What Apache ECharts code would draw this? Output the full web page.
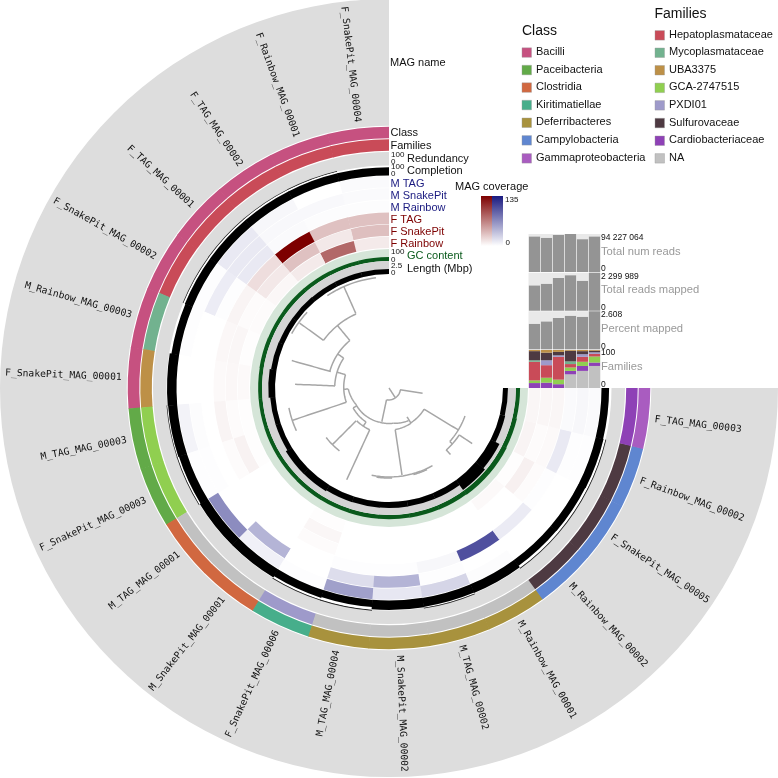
<!DOCTYPE html>
<html><head><meta charset="utf-8">
<style>html,body{margin:0;padding:0;background:#fff}#c{width:778px;height:778px}</style>
<script src="https://cdn.jsdelivr.net/npm/echarts@6/dist/echarts.min.js"></script>
</head><body><div id="c"></div>
<script>
const magNames = ["F_SnakePit_MAG_00004","F_Rainbow_MAG_00001","F_TAG_MAG_00002","F_TAG_MAG_00001","F_SnakePit_MAG_00002","M_Rainbow_MAG_00003","F_SnakePit_MAG_00001","M_TAG_MAG_00003","F_SnakePit_MAG_00003","M_TAG_MAG_00001","M_SnakePit_MAG_00001","F_SnakePit_MAG_00006","M_TAG_MAG_00004","M_SnakePit_MAG_00002","M_TAG_MAG_00002","M_Rainbow_MAG_00001","M_Rainbow_MAG_00002","F_SnakePit_MAG_00005","F_Rainbow_MAG_00002","F_TAG_MAG_00003"];
const magClass = ["Bacilli","Bacilli","Bacilli","Bacilli","Bacilli","Bacilli","Bacilli","Paceibacteria","Paceibacteria","Clostridia","Clostridia","Kiritimatiellae","Deferribacteres","Deferribacteres","Deferribacteres","Deferribacteres","Campylobacteria","Campylobacteria","Campylobacteria","Gammaproteobacteria"];
const magFamily = ["Hepatoplasmataceae","Hepatoplasmataceae","Hepatoplasmataceae","Hepatoplasmataceae","Hepatoplasmataceae","Mycoplasmataceae","UBA3375","GCA-2747515","GCA-2747515","NA","NA","PXDI01","NA","NA","NA","NA","Sulfurovaceae","Sulfurovaceae","Sulfurovaceae","Cardiobacteriaceae"];
const redundancy = [0,5,5,6,5,0,0,5,6,0,0,6,6,0,6,0,6,6,6,0];
const completion = [88,88,88,88,88,82,100,96,90,100,100,85,75,100,96,100,80,82,85,80];
const mTag      = [3,0,5,13,1,1,0,7,1,68,9,1,56,14,25,2,0,0,1,3];
const mSnakePit = [3,4,4,13,11,0,0,2,1,0,44,0,20,44,1,0,0,0,1,5];
const mRainbow  = [2,2,3,13,1,0,0,0,0,0,0,0,1,1,5,103,12,1,13,3];
const fTag      = [33,33,135,18,6,4,3,6,2,0,0,2,0,0,0,0,0,2,3,5];
const fSnakePit = [34,12,33,12,2,5,4,2,7,0,0,5,0,0,0,0,0,8,2,5];
const fRainbow  = [11,80,11,4,2,1,3,1,1,0,0,1,0,0,0,0,3,1,6,5];
const gcContent = [33,33,34,34,33,34,32,32,33,33,34,34,35,35,36,38,42,42,38,34];
const lengthMbp = [0.96,0.96,0.96,1.0,1.0,1.05,1.3,1.0,1.0,1.35,1.35,1.15,1.15,1.15,1.15,1.15,2.3,1.9,1.05,0.96];
const treeSegments = [[81.5,24,111,24],[111,6.75,111,33.75],[110.5,54,81,54],[111.5,47.25,111.5,60.75],[81,24,81,54],[81,39.5,61.5,39.5],[61.5,39.5,61.5,74.25],[60.5,74.25,101,74.25],[61.5,56.5,54.5,56.5],[54.3,56.5,54.3,87.75],[54,87.75,94,87.75],[54.3,73,45.5,73],[45.5,73,45,108.5],[45,108.5,101.5,108.5],[102,101.25,102,114.75],[45,91.5,40.7,91.5],[40.7,91.5,37,116],[37,116,35.5,165],[35.5,165,35.5,187],[35.5,187,38,211],[36.5,119,41,119],[41,119,41,146],[41,146,46,146],[46,135.5,46,155.25],[46.5,135,80,135],[80,128.25,80,141.75],[46,155.25,101,155.25],[34.5,168,12.2,168],[12,168,11.5,261],[11.2,261,34,261],[0,213,11.5,213],[34,212,41.5,212],[42,188.5,41.5,212],[41,212,41,238.8],[42,188.5,88,188.5],[89,168.75,89,209.25],[41,238.8,81,238.8],[81,228.6,81,249.75],[81,228.6,84.5,228.6],[84.5,222.75,84.5,236.25],[84.5,236.25,100,236.25],[84,222.75,90.6,222.75],[90,172,90,182],[90,195.75,90,205]];

const samples = ["F Rainbow","F SnakePit","F TAG","M Rainbow","M SnakePit","M TAG"];
const totalNumReads = [87700000,84400000,91800000,94227064,81100000,87700000];
const totalReadsMapped = [1520000,1620000,1980000,2140000,1800000,2299989];
const percentMapped = [1.74,1.90,2.15,2.29,2.22,2.608];
const famNA = [0,0,0,36,45,58];
const famCardio = [13,14,10,9,13,9];
const famGCA = [7,13,12,9,11,16];
const famHepato = [49,33,60,9,13,7];
const famMyco = [4,0,0,7,0,0];
const famPXDI = [0,13,4,0,7,4];
const famSulfuro = [24,20,9,28,8,4];
const famUBA = [3,7,5,2,3,2];

const classNames = ["Bacilli","Paceibacteria","Clostridia","Kiritimatiellae","Deferribacteres","Campylobacteria","Gammaproteobacteria"];
const classColors = ["#c65180","#62aa48","#d16840","#47ae8b","#a8923d","#5f86d0","#a95cc0"];
const familyNames = ["Hepatoplasmataceae","Mycoplasmataceae","UBA3375","GCA-2747515","PXDI01","Sulfurovaceae","Cardiobacteriaceae","NA"];
const familyColors = ["#c94b58","#72b28f","#bd9047","#90cf50","#9e9aca","#4e3a42","#8e41b6","#c1c1c1"];

const STEP = 13.5, OVERLAP = 0.12;
const CX = 389, CY = 388;
const SANS = '"Liberation Sans",Arial,sans-serif';
const MONO = '"DejaVu Sans Mono",monospace';
const mix = (hex, t) => {
  t = Math.max(0, Math.min(1, t));
  const n = parseInt(hex.slice(1), 16), c = [n >> 16, (n >> 8) & 255, n & 255];
  return 'rgb(' + c.map(v => Math.round(255 + (v - 255) * t)).join(',') + ')';
};
const RED = '#7d0000', NAVY = '#1a1a80';
const endOf = i => (i + 1) * STEP + (i < 19 ? OVERLAP : 0);

function sectorItem(params, api, r0, r1, a0, a1, fill) {
  const s = params.coordSys, p0 = api.coord([r0, a0]), p1 = api.coord([r1, a1]);
  return {type: 'sector', shape: {cx: s.cx, cy: s.cy, r0: p0[2], r: p1[2], startAngle: -p0[3], endAngle: -p1[3], clockwise: false},
    style: {fill: fill}};
}
function ring(name, r0, r1, values, colorOf) {
  return {type: 'custom', name, coordinateSystem: 'polar', silent: true, animation: false,
    data: values.map((v, i) => [i, i]),
    renderItem(params, api) {
      const i = api.value(0), v = values[i];
      return sectorItem(params, api, r0, r1, i * STEP, endOf(i), colorOf(v));
    }};
}
function barRing(name, r0, r1, max, values, color, bg) {
  return [
    {type: 'custom', name: name + ' bg', coordinateSystem: 'polar', silent: true, animation: false, data: [[0, 0]],
      renderItem(params, api) { return sectorItem(params, api, r0, r1, 0, 270, bg); }},
    {type: 'custom', name, coordinateSystem: 'polar', silent: true, animation: false,
      data: values.map((v, i) => [i, i]),
      renderItem(params, api) {
        const i = api.value(0), v = values[i];
        if (!v) return null;
        return sectorItem(params, api, r0, r0 + (r1 - r0) * v / max, i * STEP, endOf(i), color);
      }}
  ];
}
const classColor = c => classColors[classNames.indexOf(c)];
const famColor = c => familyColors[familyNames.indexOf(c)];

const series = [
  {type: 'custom', name: 'outer', coordinateSystem: 'polar', silent: true, animation: false, data: [[0, 0]],
    renderItem(params, api) { return sectorItem(params, api, 262.3, 389, 0, 270, '#dddddd'); }},
  ring('Class', 249.7, 261.3, magClass, classColor),
  ring('Families', 237.2, 248.7, magFamily, famColor),
  ...barRing('Redundancy', 222.5, 236, 100, redundancy, '#222222', '#dcdcdc'),
  ...barRing('Completion', 212.5, 222, 100, completion, '#000000', '#ffffff'),
  ring('M TAG', 200.5, 211.8, mTag, v => mix(NAVY, v / 135)),
  ring('M SnakePit', 188.4, 199.8, mSnakePit, v => mix(NAVY, v / 135)),
  ring('M Rainbow', 176.3, 187.6, mRainbow, v => mix(NAVY, v / 135)),
  ring('F TAG', 164, 175.5, fTag, v => mix(RED, v / 135)),
  ring('F SnakePit', 152, 163.4, fSnakePit, v => mix(RED, v / 135)),
  ring('F Rainbow', 140, 151.3, fRainbow, v => mix(RED, v / 135)),
  ...barRing('GC content', 127, 139, 100, gcContent, '#0a5a1c', '#d5e5d8'),
  ...barRing('Length', 114, 127, 2.5, lengthMbp, '#000000', '#d4d4d4'),
  {type: 'custom', name: 'tree', coordinateSystem: 'polar', silent: true, animation: false,
    data: treeSegments.map((s, i) => [i, i]),
    renderItem(params, api) {
      const s = treeSegments[api.value(0)], pts = [];
      for (let k = 0; k <= 14; k++) {
        const p = api.coord([s[0] + (s[2] - s[0]) * k / 14, s[1] + (s[3] - s[1]) * k / 14]);
        pts.push([p[0], p[1]]);
      }
      return {type: 'polyline', shape: {points: pts}, style: {stroke: '#a6a6a6', lineWidth: 1.5, fill: 'none', opacity: 1}};
    }},
  {type: 'custom', name: 'names', coordinateSystem: 'polar', silent: true, animation: false,
    data: magNames.map((s, i) => [i, i]),
    renderItem(params, api) {
      const i = api.value(0), a = (i + 0.5) * STEP, p = api.coord([267.5, a]), left = a < 175;
      const rot = (left ? a - 90 : a - 270) * Math.PI / 180;
      return {type: 'text', x: p[0], y: p[1], rotation: rot,
        style: {text: magNames[i], fontFamily: MONO, fontSize: 9.7, fill: '#111', align: left ? 'right' : 'left', verticalAlign: 'middle'}};
    }}
];

const panels = [[234, totalNumReads, 94227064], [272.7, totalReadsMapped, 2299989], [311.3, percentMapped, 2.608]];
const grids = [], xAxes = [], yAxes = [];
[...panels, [350, null, 100]].forEach((p, i) => {
  grids.push({left: 528.5, width: 72, top: p[0], height: 38, show: true, backgroundColor: '#e9e9e9', borderWidth: 0});
  xAxes.push({type: 'category', gridIndex: i, data: samples, show: false});
  yAxes.push({type: 'value', gridIndex: i, min: 0, max: p[2], show: false});
});
panels.forEach((p, i) => series.push({type: 'bar', xAxisIndex: i, yAxisIndex: i, data: p[1], barWidth: 11.2, silent: true, animation: false, itemStyle: {color: '#949494'}}));
[[famNA, 'NA'], [famCardio, 'Cardiobacteriaceae'], [famGCA, 'GCA-2747515'], [famHepato, 'Hepatoplasmataceae'], [famMyco, 'Mycoplasmataceae'], [famPXDI, 'PXDI01'], [famSulfuro, 'Sulfurovaceae'], [famUBA, 'UBA3375']].forEach(f => {
  series.push({type: 'bar', name: f[1], stack: 'fam', xAxisIndex: 3, yAxisIndex: 3, data: f[0], barWidth: 11.2, silent: true, animation: false, itemStyle: {color: famColor(f[1])}});
});

const els = [];
const txt = (x, y, t, size, fill, extra) => els.push({type: 'text', x, y, silent: true, style: Object.assign({text: t, fontFamily: SANS, fontSize: size, fill: fill || '#111', verticalAlign: 'middle', align: 'left'}, extra || {})});
txt(390, 63, 'MAG name', 11);
txt(390.5, 133, 'Class', 11);
txt(390.5, 146, 'Families', 11);
txt(407, 159, 'Redundancy', 11);
txt(407, 171, 'Completion', 11);
txt(390.5, 183.5, 'M TAG', 11, '#1a1a80');
txt(390.5, 195.5, 'M SnakePit', 11, '#1a1a80');
txt(390.5, 207.5, 'M Rainbow', 11, '#1a1a80');
txt(390.5, 220, 'F TAG', 11, '#7d0000');
txt(390.5, 232, 'F SnakePit', 11, '#7d0000');
txt(390.5, 244, 'F Rainbow', 11, '#7d0000');
txt(407, 256, 'GC content', 11, '#0a5a1c');
txt(407, 269, 'Length (Mbp)', 11);
[[155, '100'], [162, '0'], [167, '100'], [174, '0'], [252, '100'], [260, '0'], [265.5, '2.5'], [273, '0']].forEach(t => txt(391, t[0], t[1], 8));
txt(455, 187, 'MAG coverage', 11);
const grad = c => ({type: 'linear', x: 0, y: 0, x2: 0, y2: 1, colorStops: [{offset: 0, color: c}, {offset: 1, color: '#ffffff'}]});
els.push({type: 'rect', silent: true, shape: {x: 481, y: 196, width: 11, height: 50}, style: {fill: grad(RED)}});
els.push({type: 'rect', silent: true, shape: {x: 492, y: 196, width: 11, height: 50}, style: {fill: grad(NAVY)}});
txt(505, 199.5, '135', 8);
txt(505.5, 243, '0', 8);
[[238, '94 227 064'], [269, '0'], [276.5, '2 299 989'], [308, '0'], [315, '2.608'], [347, '0'], [353, '100'], [385, '0']].forEach(t => txt(601, t[0], t[1], 8.5));
[[251.5, 'Total num reads'], [290, 'Total reads mapped'], [328.5, 'Percent mapped'], [367, 'Families']].forEach(t => txt(601, t[0], t[1], 11.2, '#999999'));
txt(522, 31, 'Class', 14);
txt(654.5, 14, 'Families', 14);
const classY = [52.5, 70, 87.5, 105, 122.7, 140.3, 158.3];
classNames.forEach((n, i) => {
  els.push({type: 'rect', silent: true, shape: {x: 522, y: classY[i] - 4.7, width: 9.5, height: 9.5}, style: {fill: classColors[i], stroke: '#999', lineWidth: 0.4}});
  txt(536, classY[i] - 0.5, n, 11);
});
const famY = [35.3, 52.7, 70.2, 87.8, 105.3, 123, 140.7, 158.3];
familyNames.forEach((n, i) => {
  els.push({type: 'rect', silent: true, shape: {x: 655, y: famY[i] - 4.7, width: 9.5, height: 9.5}, style: {fill: familyColors[i], stroke: '#999', lineWidth: 0.4}});
  txt(669, famY[i] - 0.5, n, 11);
});

const chart = echarts.init(document.getElementById('c'), null, {renderer: 'canvas', width: 778, height: 778});
chart.setOption({
  animation: false,
  backgroundColor: '#fff',
  polar: {center: [CX, CY], radius: [0, 389]},
  angleAxis: {type: 'value', min: 0, max: 360, startAngle: 90, clockwise: false, show: false},
  radiusAxis: {type: 'value', min: 0, max: 389, show: false},
  grid: grids, xAxis: xAxes, yAxis: yAxes,
  series,
  graphic: {elements: els}
});
</script></body></html>
